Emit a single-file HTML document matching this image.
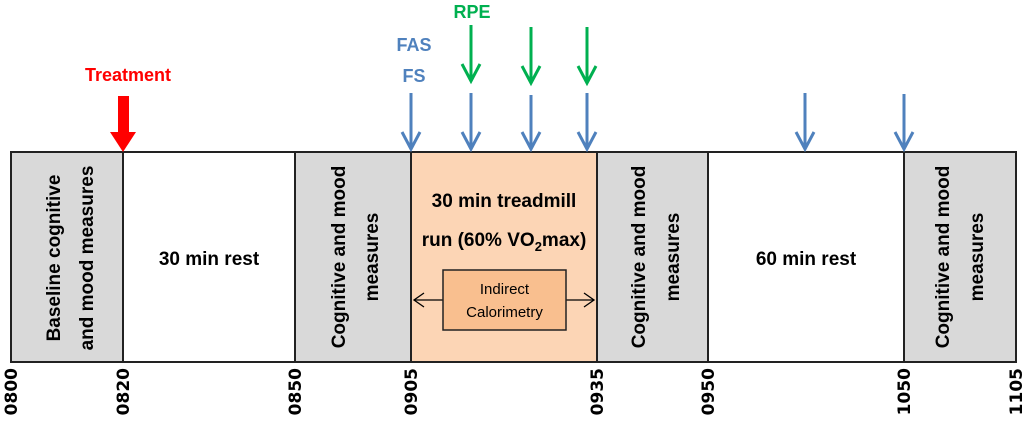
<!DOCTYPE html>
<html><head><meta charset="utf-8"><style>
html,body{margin:0;padding:0;background:#fff;}
svg{display:block;}
text{font-family:"Liberation Sans",Arial,sans-serif;}
</style></head><body>
<svg width="1024" height="421" viewBox="0 0 1024 421" xmlns="http://www.w3.org/2000/svg">
<defs>
<marker id="bh" viewBox="0 0 12 12" refX="6" refY="11" markerWidth="12" markerHeight="12" markerUnits="userSpaceOnUse" orient="auto-start-reverse"></marker>
</defs>
<!-- boxes -->
<rect x="11" y="152" width="112" height="210" fill="#d9d9d9" stroke="#222" stroke-width="2"/>
<rect x="123" y="152" width="172" height="210" fill="#fff" stroke="#222" stroke-width="2"/>
<rect x="295" y="152" width="116" height="210" fill="#d9d9d9" stroke="#222" stroke-width="2"/>
<rect x="411" y="152" width="186" height="210" fill="#fcd5b5" stroke="#222" stroke-width="2"/>
<rect x="597" y="152" width="111" height="210" fill="#d9d9d9" stroke="#222" stroke-width="2"/>
<rect x="708" y="152" width="196" height="210" fill="#fff" stroke="#222" stroke-width="2"/>
<rect x="904" y="152" width="112" height="210" fill="#d9d9d9" stroke="#222" stroke-width="2"/>

<!-- rotated texts -->
<g font-weight="bold" font-size="19" fill="#000" text-anchor="middle">
<text transform="translate(53,258) rotate(-90)" dy="7">Baseline cognitive</text>
<text transform="translate(86,258) rotate(-90)" dy="7">and mood measures</text>
<text transform="translate(338,257) rotate(-90)" dy="7">Cognitive and mood</text>
<text transform="translate(371,257) rotate(-90)" dy="7">measures</text>
<text transform="translate(638,257) rotate(-90)" dy="7">Cognitive and mood</text>
<text transform="translate(672,257) rotate(-90)" dy="7">measures</text>
<text transform="translate(942,257) rotate(-90)" dy="7">Cognitive and mood</text>
<text transform="translate(976,257) rotate(-90)" dy="7">measures</text>
<text x="209" y="265">30 min rest</text>
<text x="806" y="265">60 min rest</text>
<text x="504" y="207">30 min treadmill</text>
<text x="504" y="246">run (60% VO<tspan font-size="13" dy="5">2</tspan><tspan dy="-5">max)</tspan></text>
</g>

<!-- indirect calorimetry -->
<line x1="414" y1="300" x2="594" y2="300" stroke="#000" stroke-width="1.3"/>
<polyline points="424,293 414,300 424,307" fill="none" stroke="#000" stroke-width="1.3"/>
<polyline points="584,293 594,300 584,307" fill="none" stroke="#000" stroke-width="1.3"/>
<rect x="443" y="270" width="123" height="60" fill="#f9bf8f" stroke="#222" stroke-width="1.5"/>
<text x="504.5" y="294" font-size="15" text-anchor="middle" fill="#000">Indirect</text>
<text x="504.5" y="317" font-size="15" text-anchor="middle" fill="#000">Calorimetry</text>

<!-- time labels -->
<g font-family="DejaVu Sans" font-weight="bold" font-size="17" fill="#000" text-anchor="end">
<text transform="translate(11,368) rotate(-90)" dy="6" style="font-family:'DejaVu Sans'">0800</text>
<text transform="translate(123,368) rotate(-90)" dy="6" style="font-family:'DejaVu Sans'">0820</text>
<text transform="translate(295,368) rotate(-90)" dy="6" style="font-family:'DejaVu Sans'">0850</text>
<text transform="translate(411,368) rotate(-90)" dy="6" style="font-family:'DejaVu Sans'">0905</text>
<text transform="translate(597,368) rotate(-90)" dy="6" style="font-family:'DejaVu Sans'">0935</text>
<text transform="translate(708,368) rotate(-90)" dy="6" style="font-family:'DejaVu Sans'">0950</text>
<text transform="translate(904,368) rotate(-90)" dy="6" style="font-family:'DejaVu Sans'">1050</text>
<text transform="translate(1016,368) rotate(-90)" dy="6" style="font-family:'DejaVu Sans'">1105</text>
</g>

<!-- blue arrows -->
<g stroke="#4f81bd" stroke-width="3" fill="none">
<line x1="411" y1="93" x2="411" y2="149"/><polyline points="402,132 411,149 420,132"/>
<line x1="471" y1="93" x2="471" y2="149"/><polyline points="462,132 471,149 480,132"/>
<line x1="531" y1="95" x2="531" y2="149"/><polyline points="522,132 531,149 540,132"/>
<line x1="587" y1="93" x2="587" y2="149"/><polyline points="578,132 587,149 596,132"/>
<line x1="805" y1="93" x2="805" y2="149"/><polyline points="796,132 805,149 814,132"/>
<line x1="904" y1="94" x2="904" y2="149"/><polyline points="895,132 904,149 913,132"/>
</g>
<!-- green arrows -->
<g stroke="#00b050" stroke-width="3" fill="none">
<line x1="471" y1="25" x2="471" y2="81"/><polyline points="462,64 471,81 480,64"/>
<line x1="531" y1="27" x2="531" y2="83"/><polyline points="522,66 531,83 540,66"/>
<line x1="587" y1="27" x2="587" y2="83"/><polyline points="578,66 587,83 596,66"/>
</g>
<!-- red treatment arrow -->
<polygon points="118,96 129,96 129,132 136,132 123,152 110,132 118,132" fill="#ff0000"/>

<g font-weight="bold" font-size="18" text-anchor="middle">
<text x="128" y="81" fill="#ff0000">Treatment</text>
<text x="414" y="51" fill="#4f81bd">FAS</text>
<text x="414" y="82" fill="#4f81bd">FS</text>
<text x="472" y="18" fill="#00b050">RPE</text>
</g>
</svg>
</body></html>
